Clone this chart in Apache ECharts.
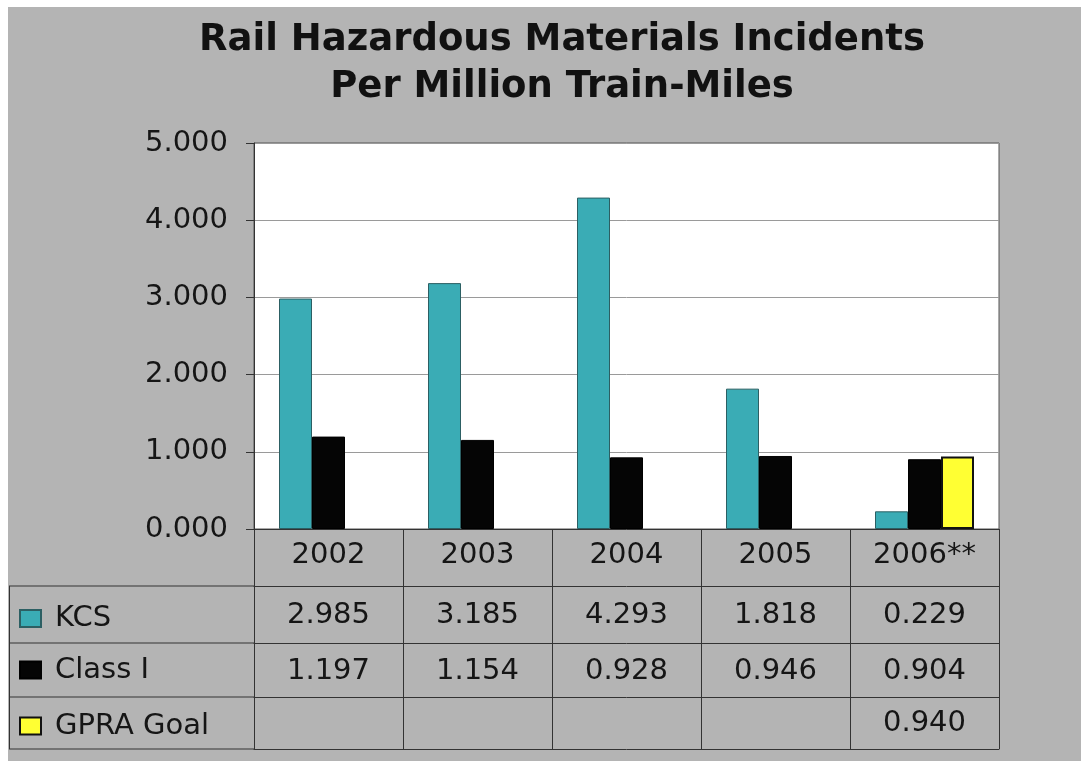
<!DOCTYPE html>
<html>
<head>
<meta charset="utf-8">
<script src="https://cdn.jsdelivr.net/npm/echarts@6/dist/echarts.min.js"></script>
<style>
html,body{margin:0;padding:0;background:#ffffff;}
#chart{position:absolute;left:8px;top:7px;width:1073px;height:754px;}
</style>
</head>
<body>
<div id="chart"></div>
<script>
// ---- data ----
var titleLines = ['Rail Hazardous Materials Incidents', 'Per Million Train-Miles'];
var categories = ['2002', '2003', '2004', '2005', '2006**'];
var kcs = [2.985, 3.185, 4.293, 1.818, 0.229];
var classI = [1.197, 1.154, 0.928, 0.946, 0.904];
var gpraGoal = [null, null, null, null, 0.940];
var seriesNames = ['KCS', 'Class I', 'GPRA Goal'];

// ---- layout (chart-local px) ----
var FONT = 'DejaVu Sans';
var gridLeft = 246, gridRight = 82, gridTop = 136, gridBottom = 232;
var plotBottomY = 754 - gridBottom;          // 522
var rowH = [57, 57, 54, 52];                // year row, KCS, Class I, GPRA
var rowMargin = [12, 15, 14, 12];
var lineColor = '#333333';
var bg = '#b4b4b4';

function fmt(v) { return (v === null || v === undefined) ? '' : v.toFixed(3); }

var rows = [null, kcs, classI, gpraGoal];
var xAxes = [];
var offset = 0;
for (var r = 0; r < rows.length; r++) {
  (function (r, off) {
    xAxes.push({
      type: 'category',
      gridIndex: 0,
      position: 'bottom',
      offset: off,
      data: categories,
      axisLine: { show: true, lineStyle: { color: lineColor, width: 1 } },
      axisTick: { show: true, length: rowH[r], inside: false, alignWithLabel: false,
                  lineStyle: { color: lineColor, width: 1 } },
      axisLabel: {
        show: true, interval: 0, margin: rowMargin[r],
        fontFamily: FONT, fontSize: 29, color: '#151515',
        formatter: function (val, idx) {
          return r === 0 ? val : fmt(rows[r][idx]);
        }
      },
      splitLine: { show: false }
    });
  })(r, offset);
  offset += rowH[r];
}
// bottom border of the table
xAxes.push({
  type: 'category', gridIndex: 0, position: 'bottom', offset: offset, data: categories,
  axisLine: { show: true, lineStyle: { color: lineColor, width: 1 } },
  axisTick: { show: false }, axisLabel: { show: false }, splitLine: { show: false }
});

var tableTop = plotBottomY + rowH[0];   // 579
var yLines = [tableTop, tableTop + rowH[1], tableTop + rowH[1] + rowH[2], tableTop + rowH[1] + rowH[2] + rowH[3]];
var tableLeft = 1;

var graphics = [];
// title
for (var t = 0; t < titleLines.length; t++) {
  graphics.push({
    type: 'text', x: 554, y: 33 + t * 47,
    style: { text: titleLines[t], font: 'bold 37px "' + FONT + '"', fill: '#111111',
             align: 'center', verticalAlign: 'middle' }
  });
}
// left column borders of the data table
for (var i = 0; i < yLines.length; i++) {
  graphics.push({ type: 'line', shape: { x1: tableLeft, y1: yLines[i], x2: gridLeft, y2: yLines[i] },
                  style: { stroke: lineColor, lineWidth: 1 } });
}
graphics.push({ type: 'line', shape: { x1: tableLeft + 0.5, y1: yLines[0], x2: tableLeft + 0.5, y2: yLines[3] },
                style: { stroke: lineColor, lineWidth: 1 } });

var legendCenters = [yLines[0] + rowH[1] / 2 + 4, yLines[1] + rowH[2] / 2, yLines[2] + rowH[3] / 2 + 3];
var legends = seriesNames.map(function (n, i) {
  return {
    data: [n], orient: 'vertical', left: 11, top: legendCenters[i] - 15, padding: 0,
    itemWidth: 21, itemHeight: 17, icon: 'rect', selectedMode: false,
    textStyle: { fontFamily: FONT, fontSize: 29, color: '#151515', lineHeight: 30, padding: [0, 0, 0, 9] }
  };
});

var chart = echarts.init(document.getElementById('chart'));
chart.setOption({
  backgroundColor: bg,
  animation: false,
  legend: legends,
  grid: { left: gridLeft, right: gridRight, top: gridTop, bottom: gridBottom,
          show: true, backgroundColor: '#ffffff', borderColor: '#555555', borderWidth: 1 },
  xAxis: xAxes,
  yAxis: {
    type: 'value', min: 0, max: 5, interval: 1,
    axisLine: { show: true, lineStyle: { color: lineColor, width: 1 } },
    axisTick: { show: true, length: 8, inside: false, lineStyle: { color: lineColor } },
    axisLabel: { margin: 26, fontFamily: FONT, fontSize: 29, color: '#151515',
                 formatter: function (v) { return v.toFixed(3); } },
    splitLine: { show: true, lineStyle: { color: '#9a9a9a', width: 1 } }
  },
  series: [
    { name: seriesNames[0], type: 'bar', data: kcs, barWidth: 33, barGap: '0%',
      itemStyle: { color: '#3aacb5', borderColor: '#2c5f63', borderWidth: 1 } },
    { name: seriesNames[1], type: 'bar', data: classI, barWidth: 33, barGap: '0%',
      itemStyle: { color: '#050505', borderColor: '#000000', borderWidth: 1 } },
    { name: seriesNames[2], type: 'bar', data: gpraGoal, barWidth: 33, barGap: '0%',
      itemStyle: { color: '#ffff33', borderColor: '#111111', borderWidth: 2 } }
  ],
  graphic: graphics
});
</script>
</body>
</html>
